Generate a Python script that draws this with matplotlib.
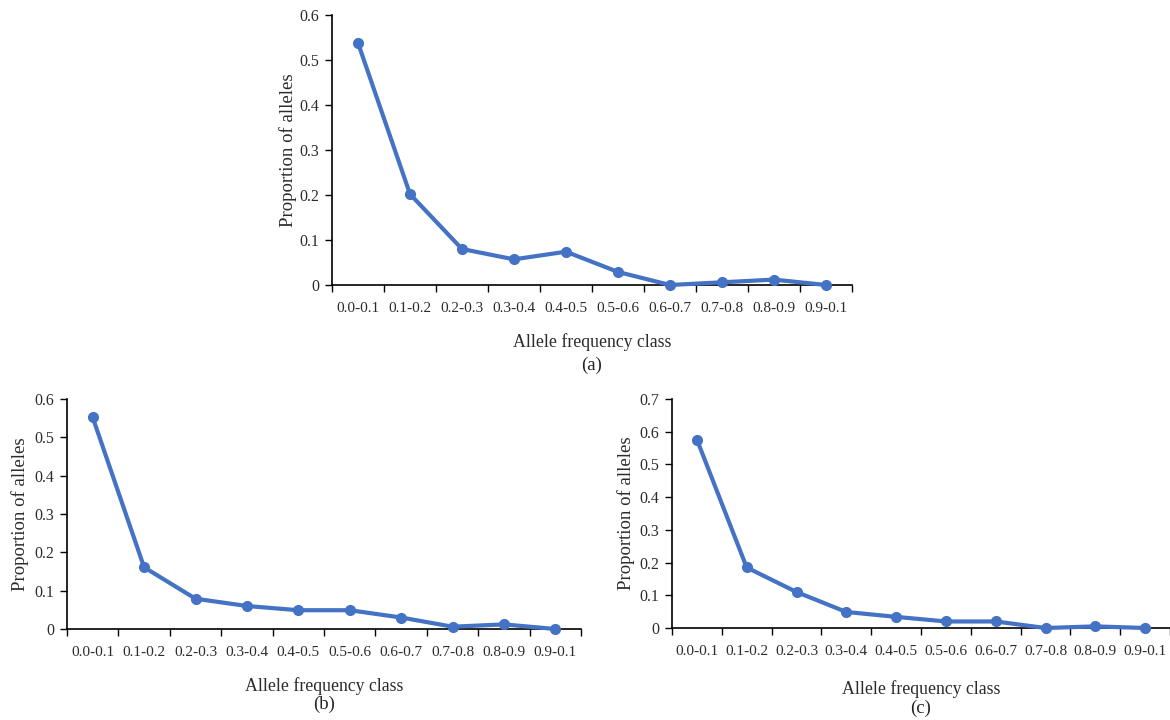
import matplotlib.pyplot as plt
import numpy as np

plt.rcParams['font.family'] = ['Liberation Serif', 'DejaVu Serif']

# allele frequency classes (as printed in the source figure)
classes = ['0.0-0.1', '0.1-0.2', '0.2-0.3', '0.3-0.4', '0.4-0.5',
           '0.5-0.6', '0.6-0.7', '0.7-0.8', '0.8-0.9', '0.9-0.1']

# proportion of alleles per class
prop_a = [0.538, 0.202, 0.080, 0.057, 0.074, 0.029, 0.000, 0.006, 0.012, 0.000]
prop_b = [0.552, 0.161, 0.079, 0.060, 0.049, 0.049, 0.030, 0.006, 0.012, 0.000]
prop_c = [0.576, 0.185, 0.110, 0.049, 0.034, 0.020, 0.020, 0.000, 0.005, 0.000]

W, H = 1170, 720
BLUE = '#4472C4'
TXT = '#2b2b2b'

fig = plt.figure(figsize=(W / 100, H / 100), dpi=100)


def px_axes(left, right, top, bottom):
    return fig.add_axes([left / W, 1 - bottom / H, (right - left) / W, (bottom - top) / H])


def draw(ax, values, ymax, panel, label_y, ylab_pad, xlab_pad):
    n = len(values)
    x = np.arange(n) + 0.5
    ax.plot(x, values, color=BLUE, lw=3, marker='o', ms=7, clip_on=False, zorder=3)
    ax.set_xlim(0, n)
    ax.set_ylim(0, ymax)
    ax.set_xticks(np.arange(n + 1))
    ax.set_xticklabels([])
    ax.set_xticks(x, minor=True)
    ax.set_xticklabels(classes, minor=True)
    ax.tick_params(axis='x', which='major', length=5, width=1, direction='out')
    ax.tick_params(axis='x', which='minor', length=0, pad=12, labelsize=11, labelcolor=TXT)
    yt = np.round(np.arange(0, ymax + 0.001, 0.1), 1)
    ax.set_yticks(yt)
    ax.set_yticklabels(['0'] + ['%.1f' % v for v in yt[1:]])
    ax.tick_params(axis='y', length=5, width=1, labelsize=11.5, labelcolor=TXT, pad=4)
    for s in ['top', 'right']:
        ax.spines[s].set_visible(False)
    for s in ['left', 'bottom']:
        ax.spines[s].set_linewidth(1.2)
    ax.set_ylabel('Proportion of alleles', fontsize=13.5, color=TXT, labelpad=ylab_pad)
    ax.set_xlabel('Allele frequency class', fontsize=12.8, color=TXT, labelpad=xlab_pad)
    pos = ax.get_position()
    fig.text(pos.x0 + pos.width / 2, 1 - label_y / H, panel, ha='center', va='center',
             fontsize=13.5, color='#222222')


ax_a = px_axes(332, 852, 15, 285)
draw(ax_a, prop_a, 0.6, '(a)', 365, 2, 13)

ax_b = px_axes(67, 581, 399, 629)
draw(ax_b, prop_b, 0.6, '(b)', 704, 4, 13)

ax_c = px_axes(672, 1170, 399, 628)
draw(ax_c, prop_c, 0.7, '(c)', 708, 3, 16)

fig.savefig('out.png', dpi=100)
